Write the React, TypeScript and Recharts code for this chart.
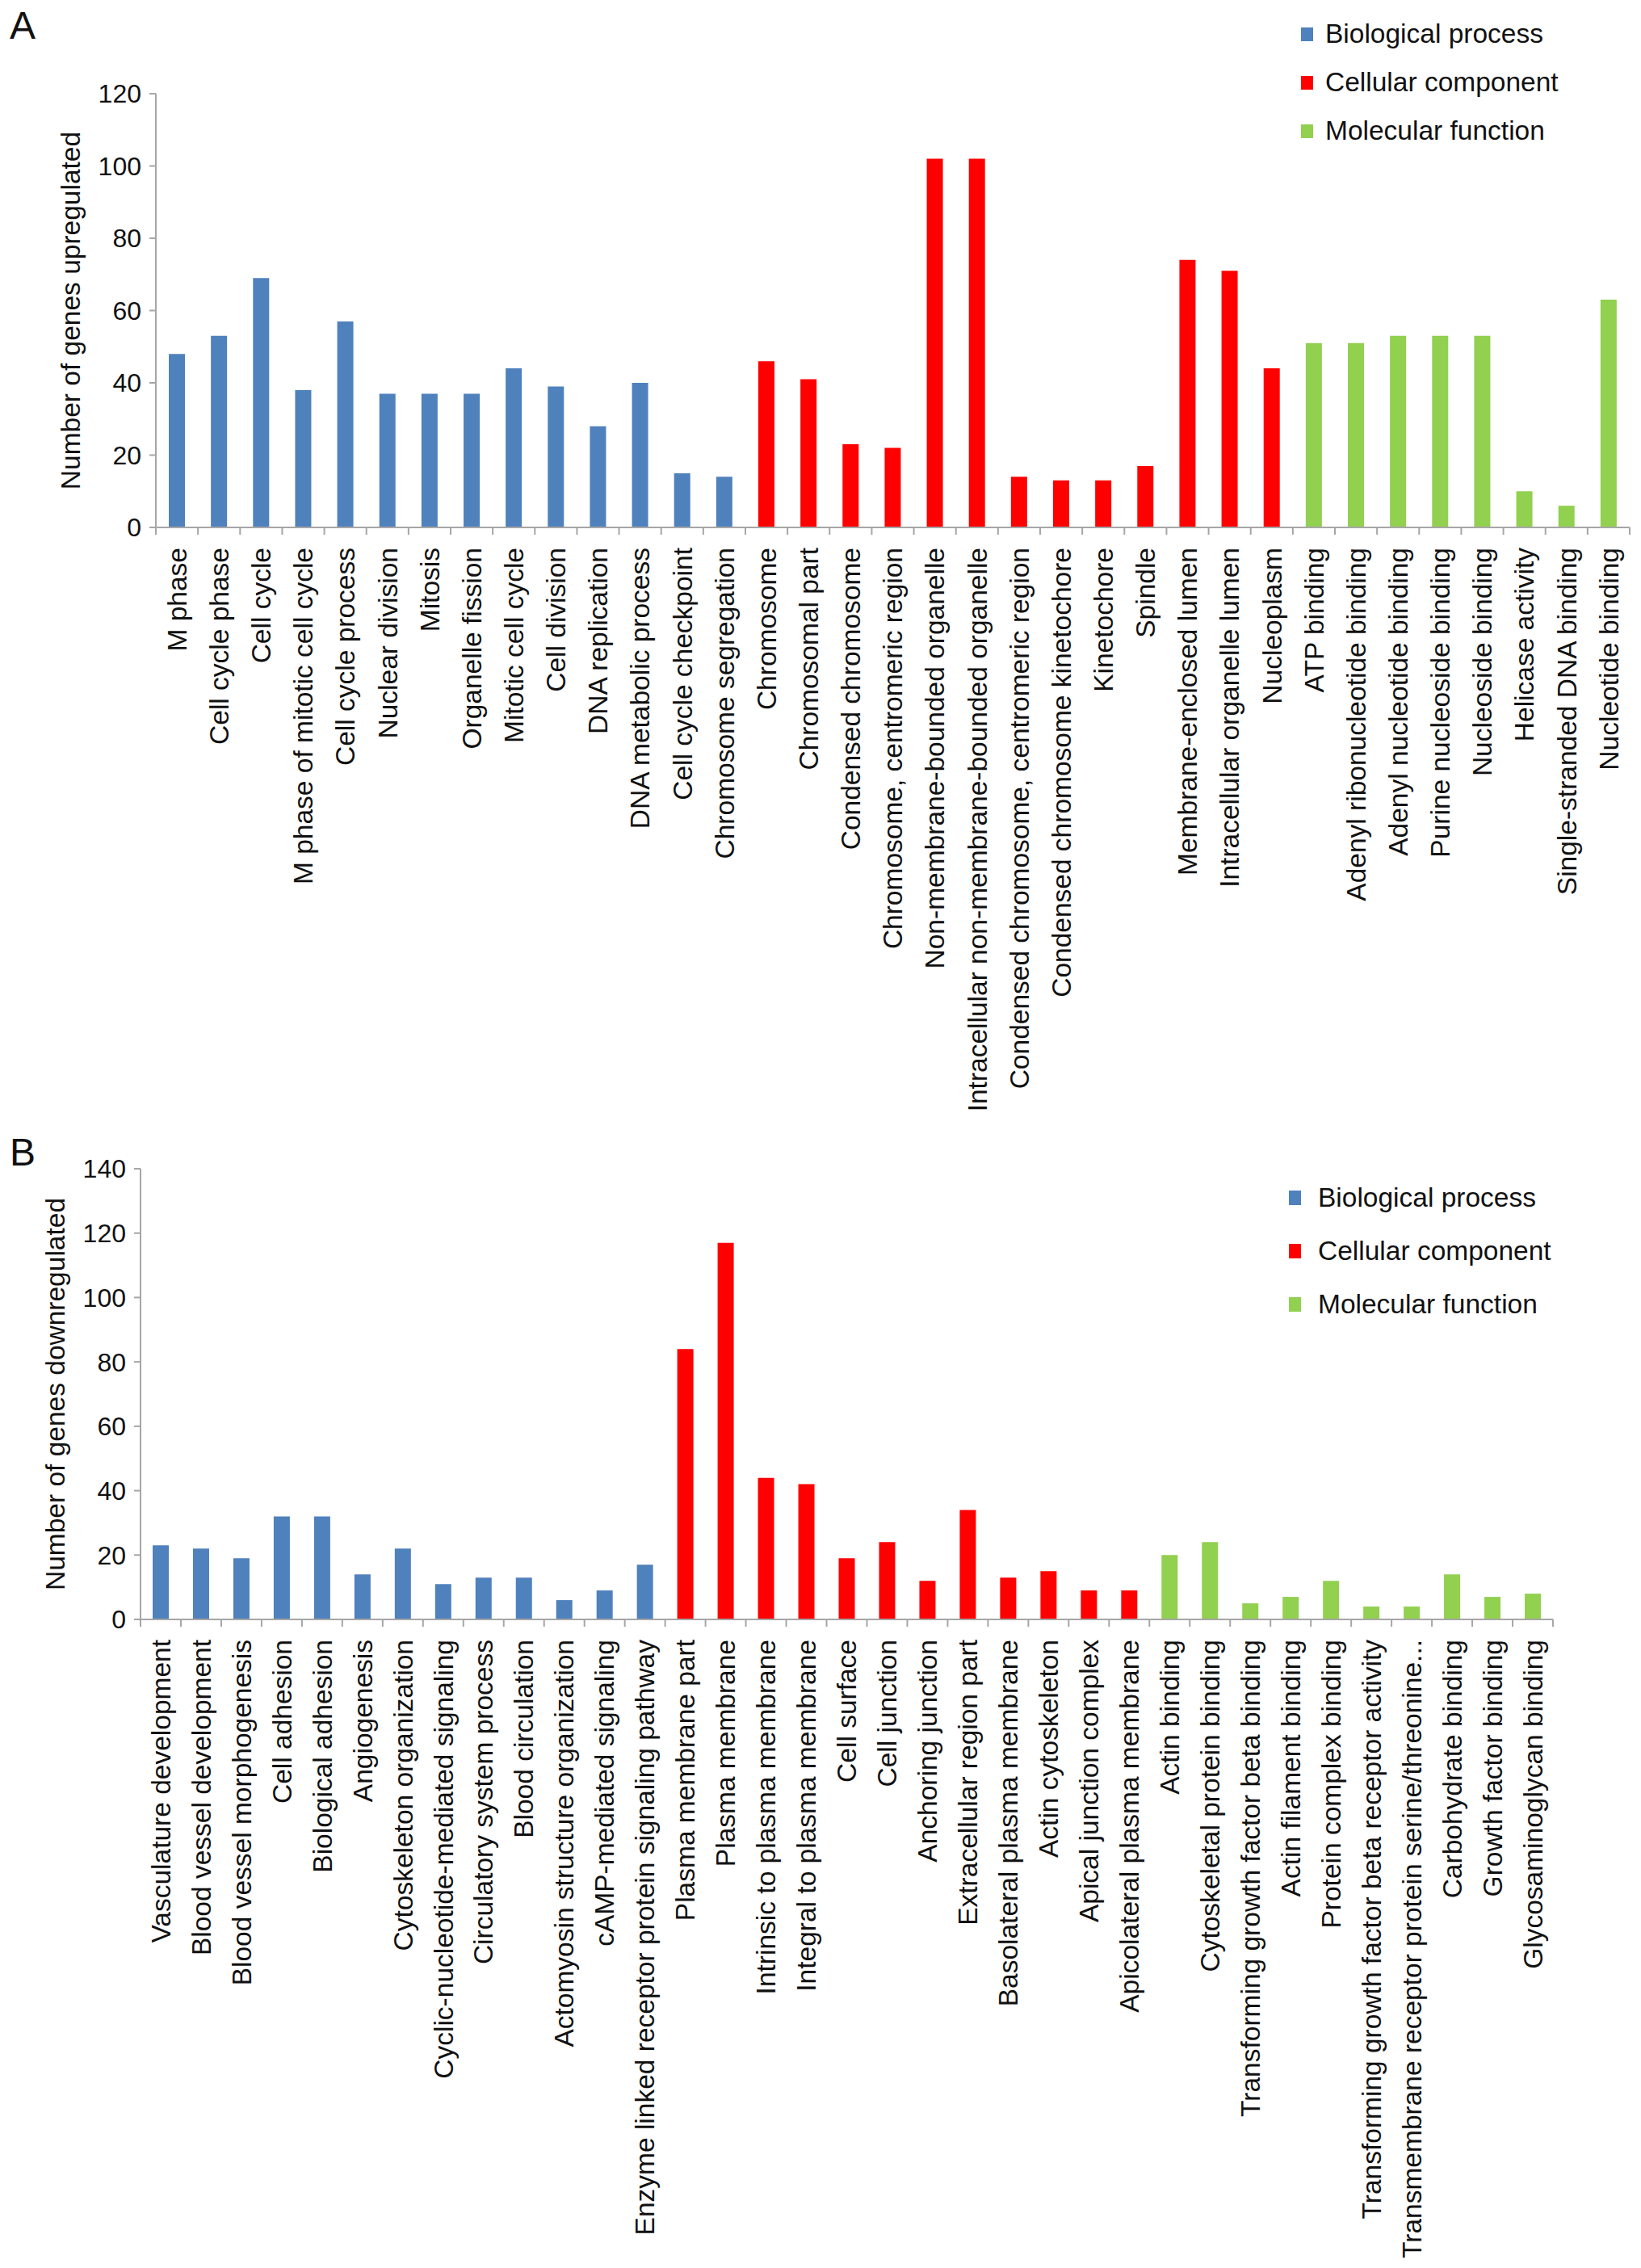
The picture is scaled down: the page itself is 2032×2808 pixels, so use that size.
import React from 'react';
import { BarChart, Bar, XAxis, YAxis, Legend } from 'recharts';

const FONT = "'Liberation Sans', Arial, Helvetica, sans-serif";
const BLUE = '#4F81BD';
const RED = '#FF0000';
const GREEN = '#92D050';
const AXIS = '#A6A6A6';
const INK = '#111111';

const seriesNames = ['Biological process', 'Cellular component', 'Molecular function'];

// ---------- Panel A: upregulated ----------
const upBPNames = [
  'M phase', 'Cell cycle phase', 'Cell cycle', 'M phase of mitotic cell cycle', 'Cell cycle process',
  'Nuclear division', 'Mitosis', 'Organelle fission', 'Mitotic cell cycle', 'Cell division',
  'DNA replication', 'DNA metabolic process', 'Cell cycle checkpoint', 'Chromosome segregation',
];
const upBPValues = [48, 53, 69, 38, 57, 37, 37, 37, 44, 39, 28, 40, 15, 14];

const upCCNames = [
  'Chromosome', 'Chromosomal part', 'Condensed chromosome', 'Chromosome, centromeric region',
  'Non-membrane-bounded organelle', 'Intracellular non-membrane-bounded organelle',
  'Condensed chromosome, centromeric region', 'Condensed chromosome kinetochore', 'Kinetochore',
  'Spindle', 'Membrane-enclosed lumen', 'Intracellular organelle lumen', 'Nucleoplasm',
];
const upCCValues = [46, 41, 23, 22, 102, 102, 14, 13, 13, 17, 74, 71, 44];

const upMFNames = [
  'ATP binding', 'Adenyl ribonucleotide binding', 'Adenyl nucleotide binding', 'Purine nucleoside binding',
  'Nucleoside binding', 'Helicase activity', 'Single-stranded DNA binding', 'Nucleotide binding',
];
const upMFValues = [51, 51, 53, 53, 53, 10, 6, 63];

const upTicks = [0, 20, 40, 60, 80, 100, 120];

// ---------- Panel B: downregulated ----------
const downBPNames = [
  'Vasculature development', 'Blood vessel development', 'Blood vessel morphogenesis', 'Cell adhesion',
  'Biological adhesion', 'Angiogenesis', 'Cytoskeleton organization', 'Cyclic-nucleotide-mediated signaling',
  'Circulatory system process', 'Blood circulation', 'Actomyosin structure organization',
  'cAMP-mediated signaling', 'Enzyme linked receptor protein signaling pathway',
];
const downBPValues = [23, 22, 19, 32, 32, 14, 22, 11, 13, 13, 6, 9, 17];

const downCCNames = [
  'Plasma membrane part', 'Plasma membrane', 'Intrinsic to plasma membrane', 'Integral to plasma membrane',
  'Cell surface', 'Cell junction', 'Anchoring junction', 'Extracellular region part',
  'Basolateral plasma membrane', 'Actin cytoskeleton', 'Apical junction complex', 'Apicolateral plasma membrane',
];
const downCCValues = [84, 117, 44, 42, 19, 24, 12, 34, 13, 15, 9, 9];

const downMFNames = [
  'Actin binding', 'Cytoskeletal protein binding', 'Transforming growth factor beta binding',
  'Actin filament binding', 'Protein complex binding', 'Transforming growth factor beta receptor activity',
  'Transmembrane receptor protein serine/threonine...', 'Carbohydrate binding', 'Growth factor binding',
  'Glycosaminoglycan binding',
];
const downMFValues = [20, 24, 5, 7, 12, 4, 4, 14, 7, 8];

const downTicks = [0, 20, 40, 60, 80, 100, 120, 140];

type Row = { name: string; bp?: number; cc?: number; mf?: number };

function buildRows(
  bpN: string[], bpV: number[], ccN: string[], ccV: number[], mfN: string[], mfV: number[],
): Row[] {
  const rows: Row[] = [];
  bpN.forEach((n, i) => rows.push({ name: n, bp: bpV[i] }));
  ccN.forEach((n, i) => rows.push({ name: n, cc: ccV[i] }));
  mfN.forEach((n, i) => rows.push({ name: n, mf: mfV[i] }));
  return rows;
}

const upRows = buildRows(upBPNames, upBPValues, upCCNames, upCCValues, upMFNames, upMFValues);
const downRows = buildRows(downBPNames, downBPValues, downCCNames, downCCValues, downMFNames, downMFValues);

function makeXTick(band: number, count: number) {
  return (props: any) => {
    const { x, y, payload, index } = props;
    const left = x - band / 2;
    const right = x + band / 2;
    return (
      <g>
        <line x1={left} x2={left} y1={y} y2={y + 9} stroke={AXIS} strokeWidth={2} />
        {index === count - 1 ? (
          <line x1={right} x2={right} y1={y} y2={y + 9} stroke={AXIS} strokeWidth={2} />
        ) : null}
        <text
          transform={`translate(${x},${y + 25}) rotate(-90)`}
          textAnchor="end"
          dy="0.35em"
          fontSize={33.5}
          fontFamily={FONT}
          fill={INK}
        >
          {payload.value}
        </text>
      </g>
    );
  };
}

function makeYLabel(text: string, cx: number) {
  return (props: any) => {
    const vb = props.viewBox || {};
    const cy = vb.y + vb.height / 2;
    return (
      <text
        transform={`translate(${cx},${cy}) rotate(-90)`}
        textAnchor="middle"
        dy="0.35em"
        fontSize={33.5}
        fontFamily={FONT}
        fill={INK}
      >
        {text}
      </text>
    );
  };
}

function makeLegend(rowH: number, sqW: number, sqH: number, gap: number) {
  return (props: any) => {
    const payload = props.payload || [];
    return (
      <div style={{ fontFamily: FONT, fontSize: 33.5, color: INK }}>
        {payload.map((p: any) => (
          <div key={p.value} style={{ display: 'flex', alignItems: 'center', height: rowH, whiteSpace: 'nowrap' }}>
            <span style={{ display: 'inline-block', width: sqW, height: sqH, background: p.color, marginRight: gap }} />
            <span>{p.value}</span>
          </div>
        ))}
      </div>
    );
  };
}

type PanelProps = {
  rows: Row[];
  width: number;
  height: number;
  margin: { top: number; right: number; left: number; bottom: number };
  yWidth: number;
  xHeight: number;
  domainMax: number;
  ticks: number[];
  title: string;
  titleX: number;
  legendLeft: number;
  legendTop: number;
  legendRowH: number;
  sqW: number;
  sqH: number;
  sqGap: number;
};

function Panel(p: PanelProps) {
  const plotW = p.width - p.margin.left - p.margin.right - p.yWidth;
  const band = plotW / p.rows.length;
  return (
    <BarChart
      width={p.width}
      height={p.height}
      data={p.rows}
      margin={p.margin}
      barSize={20}
    >
      <XAxis
        dataKey="name"
        interval={0}
        height={p.xHeight}
        tickSize={0}
        tickMargin={0}
        tickLine={false}
        axisLine={{ stroke: AXIS, strokeWidth: 2 }}
        tick={makeXTick(band, p.rows.length)}
      />
      <YAxis
        width={p.yWidth}
        domain={[0, p.domainMax]}
        ticks={p.ticks}
        allowDecimals={false}
        tickSize={8}
        tickMargin={10}
        axisLine={{ stroke: AXIS, strokeWidth: 2 }}
        tickLine={{ stroke: AXIS, strokeWidth: 2 }}
        tick={{ fontSize: 32, fontFamily: FONT, fill: INK }}
        label={makeYLabel(p.title, p.titleX)}
      />
      <Legend
        layout="vertical"
        align="center"
        verticalAlign="middle"
        wrapperStyle={{ left: p.legendLeft, top: p.legendTop, width: 440, height: p.legendRowH * 3 }}
        content={makeLegend(p.legendRowH, p.sqW, p.sqH, p.sqGap)}
      />
      <Bar dataKey="bp" name={seriesNames[0]} stackId="g" fill={BLUE} isAnimationActive={false} />
      <Bar dataKey="cc" name={seriesNames[1]} stackId="g" fill={RED} isAnimationActive={false} />
      <Bar dataKey="mf" name={seriesNames[2]} stackId="g" fill={GREEN} isAnimationActive={false} />
    </BarChart>
  );
}

const letterStyle: React.CSSProperties = {
  position: 'absolute',
  left: 12,
  fontFamily: FONT,
  fontSize: 48,
  lineHeight: '48px',
  color: INK,
};

export default function App() {
  return (
    <div style={{ position: 'absolute', left: 0, top: 0, width: 2032, height: 2808, background: '#fff', overflow: 'hidden' }}>
      <div style={{ position: 'absolute', left: 0, top: 0 }}>
        <Panel
          rows={upRows}
          width={2032}
          height={1400}
          margin={{ top: 116, right: 14, left: 0, bottom: 0 }}
          yWidth={193}
          xHeight={747}
          domainMax={120}
          ticks={upTicks}
          title="Number of genes upregulated"
          titleX={87}
          legendLeft={1611}
          legendTop={12}
          legendRowH={60}
          sqW={15}
          sqH={17}
          sqGap={15}
        />
      </div>
      <div style={{ position: 'absolute', left: 0, top: 1400 }}>
        <Panel
          rows={downRows}
          width={2032}
          height={1408}
          margin={{ top: 47, right: 109, left: 0, bottom: 0 }}
          yWidth={174}
          xHeight={803}
          domainMax={140}
          ticks={downTicks}
          title="Number of genes downregulated"
          titleX={68}
          legendLeft={1596}
          legendTop={50}
          legendRowH={66}
          sqW={15}
          sqH={18}
          sqGap={21}
        />
      </div>
      <div style={{ ...letterStyle, top: 8 }}>A</div>
      <div style={{ ...letterStyle, top: 1403 }}>B</div>
    </div>
  );
}
